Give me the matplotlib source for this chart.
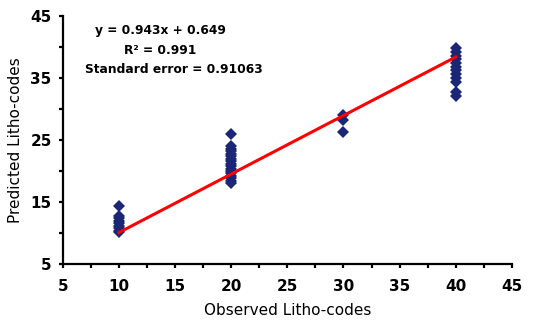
import numpy as np
import matplotlib
matplotlib.use("Agg")
import matplotlib.pyplot as plt
from matplotlib.ticker import MultipleLocator, FixedLocator

# observed litho-codes and predicted values
obs_10 = [10.1, 10.4, 10.8, 11.2, 11.6, 12.0, 12.4, 12.8, 14.4]
obs_20 = [18.0, 18.4, 18.8, 19.2, 19.6, 20.0, 20.4, 20.8, 21.2, 21.6,
          22.0, 22.4, 22.8, 23.2, 23.6, 24.0, 26.0]
obs_30 = [26.3, 28.2, 29.0]
obs_40 = [32.1, 32.7, 34.4, 35.0, 35.6, 36.2, 36.8, 37.4, 38.0, 38.6,
          39.2, 39.8]

slope = 0.943
intercept = 0.649
fit_x = [10, 40]

y_ticks = [5, 15, 25, 35, 45]
y_minor = [10, 20, 30, 40]

observed = np.concatenate([np.full(len(v), c) for c, v in
                           [(10, obs_10), (20, obs_20), (30, obs_30), (40, obs_40)]])
predicted = np.concatenate([obs_10, obs_20, obs_30, obs_40])

fig = plt.figure(figsize=(5.51, 3.24), dpi=100)
ax = fig.add_axes([0.114, 0.185, 0.815, 0.766])

ax.plot(observed, predicted, "D", color="#1c2677", markersize=6.5,
        markeredgewidth=0, zorder=2)
fit_x = np.array(fit_x)
ax.plot(fit_x, slope * fit_x + intercept, color="#ff0000", linewidth=2.2, zorder=3)

ax.set_xlim(5, 45)
ax.set_ylim(5, 45)
ax.xaxis.set_major_locator(MultipleLocator(5))
ax.xaxis.set_minor_locator(MultipleLocator(2.5))
ax.yaxis.set_major_locator(FixedLocator(y_ticks))
ax.yaxis.set_minor_locator(FixedLocator(y_minor))

for s in ["top", "right"]:
    ax.spines[s].set_visible(False)
for s in ["left", "bottom"]:
    ax.spines[s].set_linewidth(1.6)
ax.tick_params(which="both", direction="out", width=1.6, length=3)
ax.tick_params(axis="x", which="major", pad=8)
ax.tick_params(axis="y", which="major", pad=5)
for lab in ax.get_xticklabels() + ax.get_yticklabels():
    lab.set_fontweight("bold")
    lab.set_fontsize(11)

ax.set_xlabel("Observed Litho-codes", fontsize=11, labelpad=6)
ax.set_ylabel("Predicted Litho-codes", fontsize=11, labelpad=5)

txt = dict(fontsize=8.8, fontweight="bold", ha="center", va="center")
ax.text(13.7, 42.6, "y = 0.943x + 0.649", **txt)
ax.text(13.7, 39.5, "R² = 0.991", **txt)
ax.text(14.9, 36.3, "Standard error = 0.91063", **txt)

fig.savefig("out.png", dpi=100)
